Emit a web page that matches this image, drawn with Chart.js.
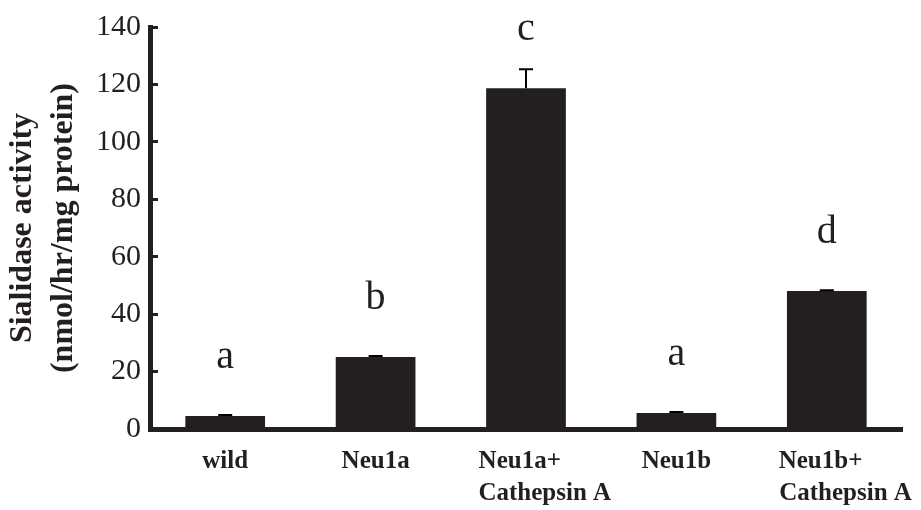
<!DOCTYPE html>
<html>
<head>
<meta charset="utf-8">
<script src="https://cdn.jsdelivr.net/npm/chart.js@4/dist/chart.umd.min.js"></script>
<style>
  html, body { margin: 0; padding: 0; background: #ffffff; }
  #wrap { width: 921px; height: 510px; }
</style>
</head>
<body>
<div id="wrap"><canvas id="c" width="921" height="510"></canvas></div>
<script>
// Sialidase activity per construct (nmol/hr/mg protein)
const categories = [['wild'], ['Neu1a'], ['Neu1a+', 'Cathepsin A'], ['Neu1b'], ['Neu1b+', 'Cathepsin A']];
const activity = [4.5, 25.1, 118.7, 5.6, 48.1];
const activityError = [0.4, 0.3, 6.6, 0.3, 0.2];
const groupLetters = ['a', 'b', 'c', 'a', 'd'];
const yTicks = [0, 20, 40, 60, 80, 100, 120, 140];

const INK = '#231f20';
const SERIF = "'Liberation Serif', 'Times New Roman', serif";
const X_FONT = { family: SERIF, size: 25, weight: 'bold', lineHeight: 1.28 };

// Left-align the lines of wrapped category labels and nudge them right a little.
const measureCtx = document.createElement('canvas').getContext('2d');
function alignLines(lines) {
  if (!Array.isArray(lines) || lines.length < 2) return lines;
  measureCtx.font = 'bold ' + X_FONT.size + 'px ' + SERIF;
  const widths = lines.map(l => measureCtx.measureText(l).width);
  const maxW = Math.max(...widths);
  const sp = measureCtx.measureText(' ').width;
  const lead = ' '.repeat(Math.round(40 / sp));
  return lines.map((l, i) => lead + l + ' '.repeat(Math.round((maxW - widths[i]) / sp)));
}

// Upward error bars with a short cap
const errorBars = {
  id: 'errorBars',
  afterDatasetsDraw(chart) {
    const { ctx, scales: { y } } = chart;
    const meta = chart.getDatasetMeta(0);
    ctx.save();
    ctx.strokeStyle = '#000000';
    ctx.lineWidth = 2;
    meta.data.forEach((bar, i) => {
      const yTop = y.getPixelForValue(activity[i] + activityError[i]);
      const yBase = y.getPixelForValue(activity[i]);
      ctx.beginPath();
      ctx.moveTo(bar.x, yBase);
      ctx.lineTo(bar.x, yTop);
      ctx.moveTo(bar.x - 7, yTop);
      ctx.lineTo(bar.x + 7, yTop);
      ctx.stroke();
    });
    ctx.restore();
  }
};

// Significance group letters above each bar
const groupLabels = {
  id: 'groupLabels',
  afterDatasetsDraw(chart) {
    const { ctx, scales: { y } } = chart;
    const meta = chart.getDatasetMeta(0);
    ctx.save();
    ctx.fillStyle = INK;
    ctx.font = '40px ' + SERIF;
    ctx.textAlign = 'center';
    ctx.textBaseline = 'alphabetic';
    meta.data.forEach((bar, i) => {
      ctx.fillText(groupLetters[i], bar.x, y.getPixelForValue(activity[i]) - 48);
    });
    ctx.restore();
  }
};

new Chart(document.getElementById('c'), {
  type: 'bar',
  data: {
    labels: categories,
    datasets: [{
      data: activity,
      backgroundColor: INK,
      borderWidth: 0,
      barPercentage: 0.53,
      categoryPercentage: 1.0
    }]
  },
  options: {
    responsive: false,
    animation: false,
    devicePixelRatio: 1,
    layout: { padding: { top: 27, right: 19, left: 0, bottom: 0 } },
    plugins: { legend: { display: false }, tooltip: { enabled: false } },
    scales: {
      x: {
        grid: { display: false, drawTicks: false, tickLength: 0 },
        border: { display: true, color: INK, width: 5 },
        ticks: {
          color: INK,
          font: X_FONT,
          padding: 17,
          maxRotation: 0,
          autoSkip: false,
          callback: function (value) { return alignLines(this.getLabelForValue(value)); }
        },
        afterFit: s => { s.height = 81; s.paddingLeft = 0; s.paddingRight = 0; }
      },
      y: {
        min: 0,
        max: 140,
        afterBuildTicks: s => { s.ticks = yTicks.map(v => ({ value: v })); },
        grid: { display: true, drawOnChartArea: false, drawTicks: true, tickLength: -8, color: INK, lineWidth: 3 },
        border: { display: true, color: INK, width: 5 },
        ticks: {
          color: INK,
          font: { family: SERIF, size: 30 },
          padding: 17
        },
        title: {
          display: true,
          text: ['Sialidase activity', '(nmol/hr/mg protein)'],
          color: INK,
          font: { family: SERIF, size: 32, weight: 'bold', lineHeight: 1.28 },
          padding: { top: 2, bottom: 0 }
        },
        afterFit: s => { s.width = 150; s.paddingTop = 0; s.paddingBottom = 0; }
      }
    }
  },
  plugins: [errorBars, groupLabels]
});
</script>
</body>
</html>
